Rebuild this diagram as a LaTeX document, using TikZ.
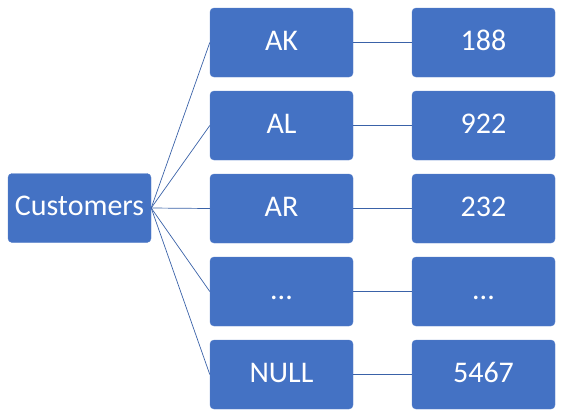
\documentclass[tikz,border=0pt]{standalone}
\usepackage{fontspec}
\setmainfont{Carlito}
\usepackage{tikz}

\definecolor{boxblue}{HTML}{4472C4}
\definecolor{lineblue}{HTML}{3A62A8}

\tikzset{
  item/.style={draw=boxblue!90!white, fill=boxblue, rounded corners=4pt, minimum width=143pt, minimum height=69pt, text=white, font=\fontsize{30}{32}\selectfont, inner sep=0pt, text height=20pt, text depth=5pt},
  link/.style={draw=lineblue, line width=0.7pt}
}

\begin{document}
\begin{tikzpicture}[x=1pt, y=-1pt]

\useasboundingbox (0,0) rectangle (564,418);

% Root
\node[item] (cust) at (79.5,208) {Customers};

% States
\node[item] (ak) at (281.5,42.5) {AK};
\node[item] (al) at (281.5,125.5) {AL};
\node[item] (ar) at (281.5,208.5) {AR};
\node[item] (etc) at (281.5,291.5) {...};
\node[item] (nul) at (281.5,374.5) {NULL};

% Counts
\node[item] (nak) at (483.5,42.5) {188};
\node[item] (nal) at (483.5,125.5) {922};
\node[item] (nar) at (483.5,208.5) {232};
\node[item] (netc) at (483.5,291.5) {...};
\node[item] (nnul) at (483.5,374.5) {5467};

% Links
\foreach \s in {ak,al,ar,etc,nul}
  \draw[link] (cust.east) -- (\s.west);
\foreach \s/\n in {ak/nak,al/nal,ar/nar,etc/netc,nul/nnul}
  \draw[link] (\s.east) -- (\n.west);

\end{tikzpicture}
\end{document}
